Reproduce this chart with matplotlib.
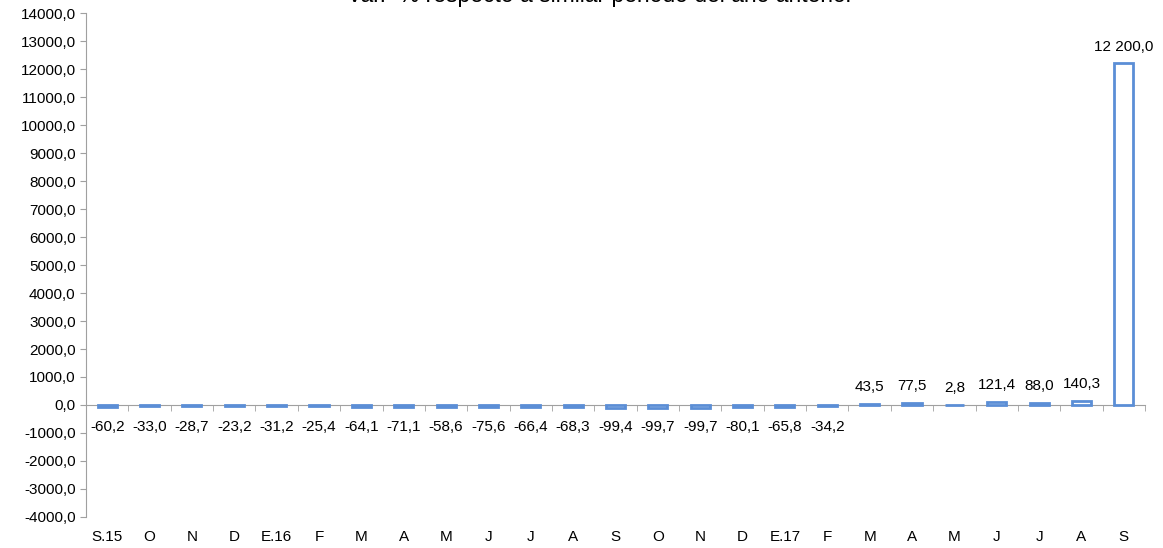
import numpy as np
import matplotlib.pyplot as plt
import matplotlib.ticker as ticker

plt.rcParams['font.family'] = ['Liberation Sans', 'DejaVu Sans']

meses = ['S.15', 'O', 'N', 'D', 'E.16', 'F', 'M', 'A', 'M', 'J', 'J', 'A', 'S',
         'O', 'N', 'D', 'E.17', 'F', 'M', 'A', 'M', 'J', 'J', 'A', 'S']
var_pct = [-60.2, -33.0, -28.7, -23.2, -31.2, -25.4, -64.1, -71.1, -58.6, -75.6,
           -66.4, -68.3, -99.4, -99.7, -99.7, -80.1, -65.8, -34.2, 43.5, 77.5,
           2.8, 121.4, 88.0, 140.3, 12200.0]

def fmt_num(v):
    s = '{:,.1f}'.format(v)
    return s.replace(',', ' ').replace('.', ',')

fig = plt.figure(figsize=(11.63, 5.48), dpi=100)
ax = fig.add_axes([0.074, 0.0566, 0.9105, 0.9196])

x = np.arange(len(meses))
ax.bar(x, var_pct, width=0.45, facecolor='white', edgecolor='#5B8ED6', linewidth=2, zorder=3)

for xi, v in zip(x, var_pct):
    if v >= 0:
        ax.annotate(fmt_num(v), (xi, v), xytext=(0, 7), textcoords='offset points',
                    ha='center', va='bottom', fontsize=11)
    else:
        ax.annotate(fmt_num(v), (xi, 0), xytext=(0, -11), textcoords='offset points',
                    ha='center', va='top', fontsize=11)

ax.set_xlim(-0.5, len(meses) - 0.5)
ax.set_ylim(-4000, 14000)
ax.yaxis.set_major_locator(ticker.MultipleLocator(1000))
ax.yaxis.set_major_formatter(ticker.FuncFormatter(lambda v, p: ('%.1f' % v).replace('.', ',')))
ax.tick_params(axis='y', labelsize=11, length=4, color='#A0A0A0')

ax.spines['top'].set_visible(False)
ax.spines['right'].set_visible(False)
ax.spines['left'].set_color('#A0A0A0')
ax.spines['bottom'].set_color('#A0A0A0')
ax.spines['bottom'].set_position(('data', 0))

ax.set_xticks(x)
ax.set_xticklabels(meses)
ax.set_xticks(np.arange(len(meses) + 1) - 0.5, minor=True)
ax.tick_params(axis='x', which='major', length=0, pad=90, labelsize=11)
ax.tick_params(axis='x', which='minor', length=4, color='#A0A0A0')

fig.text(0.516, 1 - 2 / 548, 'Var.  % respecto a similar periodo del año anterior',
         ha='center', va='baseline', fontsize=16.5)

fig.savefig('out.png', dpi=100)
